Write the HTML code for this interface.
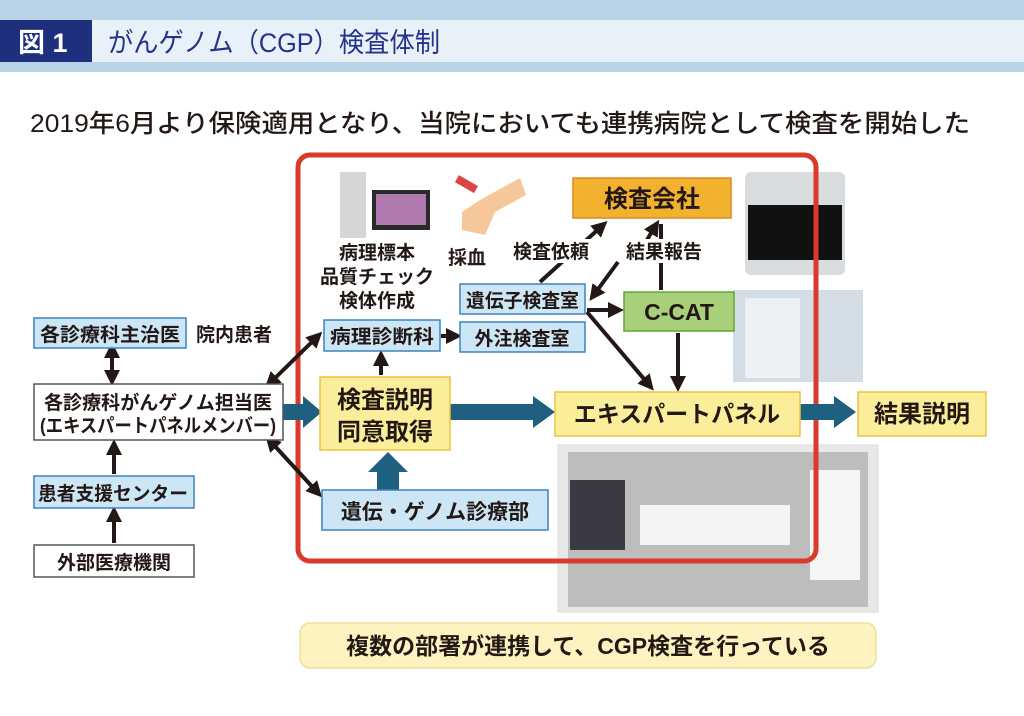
<!DOCTYPE html>
<html><head><meta charset="utf-8"><style>
html,body{margin:0;padding:0;background:#fff;}
svg{display:block;}
text{font-family:"Liberation Sans","Noto Sans CJK JP",sans-serif;fill:#231815;font-weight:bold;}
</style></head><body>
<svg width="1024" height="716" viewBox="0 0 1024 716" xmlns="http://www.w3.org/2000/svg">
<defs>
<marker id="ah" markerWidth="4" markerHeight="4" refX="2.5" refY="2" orient="auto" markerUnits="strokeWidth"><path d="M0,0 L4,2 L0,4 z" fill="#231815"/></marker>
<marker id="as" markerWidth="4" markerHeight="4" refX="1.5" refY="2" orient="auto-start-reverse" markerUnits="strokeWidth"><path d="M0,0 L4,2 L0,4 z" fill="#231815"/></marker>
</defs>
<rect x="0" y="0" width="1024" height="72" fill="#b9d4e6"/>
<rect x="0" y="20" width="1024" height="42" fill="#e9f1f8"/>
<rect x="0" y="20" width="92" height="42" fill="#1e2f7e"/>
<text x="18" y="52" font-size="27" style="fill:#fff">図 1</text>
<text x="108" y="52" font-size="27" style="fill:#25348a;font-weight:normal" textLength="332" lengthAdjust="spacingAndGlyphs">がんゲノム（CGP）検査体制</text>

<text x="30" y="132" font-size="25" textLength="940" lengthAdjust="spacingAndGlyphs" style="font-weight:500">2019年6月より保険適用となり、当院においても連携病院として検査を開始した</text>

<!-- images -->
<rect x="340" y="172" width="26" height="66" fill="#d6d6d6"/>
<rect x="372" y="190" width="58" height="40" fill="#2a2a2a"/>
<rect x="376" y="194" width="50" height="31" fill="#b07ab0"/>
<rect x="455" y="180" width="22" height="8" fill="#d44" transform="rotate(30 466 185)"/>
<path d="M480 200 L520 178 L526 195 L495 212 L485 235 L462 230 L462 212 z" fill="#f6c79a"/>
<rect x="745" y="172" width="100" height="103" rx="6" fill="#d8dcdf"/>
<rect x="748" y="205" width="94" height="55" fill="#111"/>
<rect x="733" y="290" width="130" height="92" fill="#d3dde5"/>
<rect x="745" y="298" width="55" height="80" fill="#eef1f3"/>
<!-- photo -->
<rect x="558" y="445" width="320" height="167" fill="#e8e8e8" stroke="#ddd"/>
<rect x="568" y="452" width="300" height="155" fill="#bdbdbd"/>
<rect x="640" y="505" width="150" height="40" fill="#f4f4f4"/>
<rect x="570" y="480" width="55" height="70" fill="#3a3a45"/>
<rect x="810" y="470" width="50" height="110" fill="#f5f5f5"/>

<!-- red frame -->
<rect x="298" y="155" width="518" height="406" rx="12" fill="none" stroke="#d93a2b" stroke-width="5"/>

<!-- thick teal arrows -->
<g fill="#1f5f80">
<rect x="283" y="404" width="22" height="16"/><path d="M303 396 L322 412 L303 428 z"/>
<rect x="450" y="404" width="85" height="16"/><path d="M533 396 L555 412 L533 428 z"/>
<rect x="800" y="404" width="36" height="16"/><path d="M834 396 L856 412 L834 428 z"/>
<rect x="377" y="470" width="22" height="20"/><path d="M368 472 L388 452 L408 472 z"/>
</g>

<!-- black arrows -->
<g stroke="#231815" stroke-width="4" fill="none">
<line x1="112" y1="352" x2="112" y2="380" marker-start="url(#as)" marker-end="url(#ah)"/>
<line x1="114" y1="474" x2="114" y2="445" marker-end="url(#ah)"/>
<line x1="114" y1="543" x2="114" y2="512" marker-end="url(#ah)"/>
<line x1="272" y1="381" x2="318" y2="336" marker-start="url(#as)" marker-end="url(#ah)"/>
<line x1="272" y1="443" x2="318" y2="493" marker-start="url(#as)" marker-end="url(#ah)"/>
<line x1="381" y1="375" x2="381" y2="356" marker-end="url(#ah)"/>
<line x1="441" y1="336" x2="456" y2="336" marker-end="url(#ah)"/>
<line x1="540" y1="282" x2="603" y2="225" marker-end="url(#ah)"/>
<line x1="618" y1="262" x2="593" y2="296" marker-end="url(#ah)"/>
<line x1="636" y1="258" x2="656" y2="225" marker-end="url(#ah)"/>
<line x1="661" y1="258" x2="661" y2="224"/>
<line x1="661" y1="254" x2="661" y2="290"/>
<line x1="587" y1="310" x2="618" y2="310" marker-end="url(#ah)"/>
<line x1="587" y1="312" x2="650" y2="386" marker-end="url(#ah)"/>
<line x1="678" y1="333" x2="678" y2="386" marker-end="url(#ah)"/>
</g>
<!-- label backgrounds -->
<rect x="510" y="239" width="90" height="24" fill="#fff"/>
<rect x="622" y="239" width="92" height="24" fill="#fff"/>

<!-- boxes -->
<g stroke-width="1.5">
<rect x="34" y="318" width="152" height="30" fill="#cde6f5" stroke="#3a84c0"/>
<rect x="34" y="384" width="249" height="56" fill="#fff" stroke="#555"/>
<rect x="34" y="476" width="160" height="32" fill="#cde6f5" stroke="#3a84c0"/>
<rect x="34" y="545" width="160" height="32" fill="#fff" stroke="#555"/>
<rect x="324" y="320" width="116" height="31" fill="#cde6f5" stroke="#3a84c0"/>
<rect x="460" y="322" width="125" height="30" fill="#cde6f5" stroke="#3a84c0"/>
<rect x="460" y="284" width="125" height="30" fill="#cde6f5" stroke="#3a84c0"/>
<rect x="573" y="178" width="158" height="40" fill="#f2b230" stroke="#e08a20"/>
<rect x="624" y="292" width="110" height="39" fill="#a8cf7a" stroke="#5fa53a"/>
<rect x="320" y="377" width="130" height="73" fill="#fbee9a" stroke="#f0c040"/>
<rect x="555" y="392" width="245" height="44" fill="#fbee9a" stroke="#f0c040"/>
<rect x="858" y="392" width="128" height="44" fill="#fbee9a" stroke="#f0c040"/>
<rect x="322" y="490" width="226" height="40" fill="#cde6f5" stroke="#3a84c0"/>
</g>

<g font-size="19">
<text x="40" y="341" textLength="140" lengthAdjust="spacingAndGlyphs">各診療科主治医</text>
<text x="196" y="341">院内患者</text>
<text x="44" y="409" textLength="228" lengthAdjust="spacingAndGlyphs">各診療科がんゲノム担当医</text>
<text x="40" y="432" textLength="236" lengthAdjust="spacingAndGlyphs">(エキスパートパネルメンバー)</text>
<text x="38" y="500" textLength="150" lengthAdjust="spacingAndGlyphs">患者支援センター</text>
<text x="114" y="569" text-anchor="middle">外部医療機関</text>
<text x="330" y="343" textLength="104" lengthAdjust="spacingAndGlyphs">病理診断科</text>
<text x="522" y="345" text-anchor="middle">外注検査室</text>
<text x="466" y="307" textLength="113" lengthAdjust="spacingAndGlyphs">遺伝子検査室</text>
<text x="377" y="259" text-anchor="middle">病理標本</text>
<text x="377" y="283" text-anchor="middle">品質チェック</text>
<text x="377" y="307" text-anchor="middle">検体作成</text>
<text x="448" y="264">採血</text>
<text x="513" y="258">検査依頼</text>
<text x="626" y="258">結果報告</text>
</g>
<text x="652" y="207" font-size="24" text-anchor="middle">検査会社</text>
<text x="679" y="320" font-size="23" text-anchor="middle">C-CAT</text>
<text x="385" y="408" font-size="24" text-anchor="middle">検査説明</text>
<text x="385" y="440" font-size="24" text-anchor="middle">同意取得</text>
<text x="677" y="422" font-size="23" text-anchor="middle">エキスパートパネル</text>
<text x="922" y="422" font-size="24" text-anchor="middle">結果説明</text>
<text x="435" y="519" font-size="21" text-anchor="middle">遺伝・ゲノム診療部</text>

<rect x="300" y="623" width="576" height="45" rx="10" fill="#fdf3c0" stroke="#efe19a" stroke-width="1.5"/>
<text x="588" y="654" font-size="23" text-anchor="middle">複数の部署が連携して、CGP検査を行っている</text>
</svg>
</body></html>
